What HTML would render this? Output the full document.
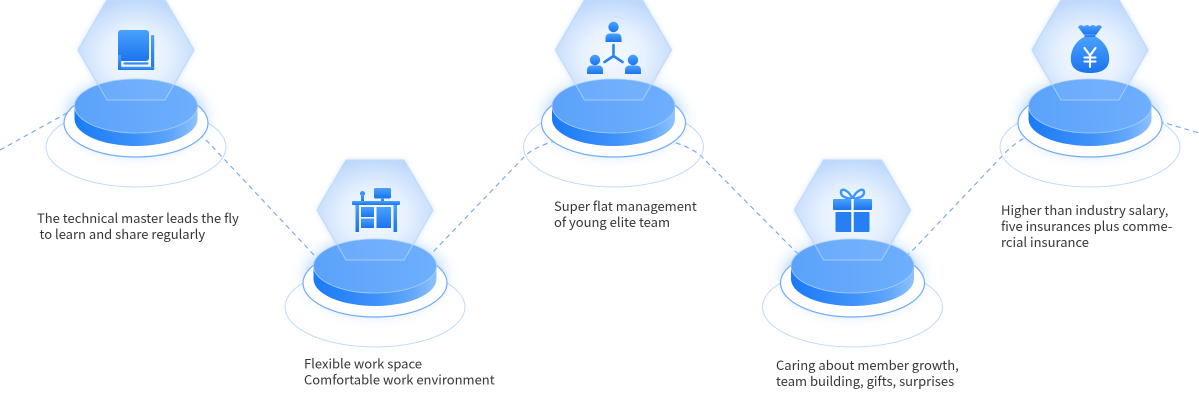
<!DOCTYPE html>
<html><head><meta charset="utf-8"><style>
html,body{margin:0;padding:0;background:#fff;overflow:hidden}
svg{display:block}
text{font-family:"Noto Sans CJK SC","Liberation Sans",sans-serif;font-size:13px;fill:#363636}
</style></head><body>
<svg width="1199" height="410" viewBox="0 0 1199 410" xmlns="http://www.w3.org/2000/svg">
<defs>
  <linearGradient id="ig" x1="0" y1="0" x2="0" y2="1"><stop offset="0" stop-color="#4aa1ff"/><stop offset="1" stop-color="#1b74ee"/></linearGradient>
  <radialGradient id="hg" cx=".5" cy=".56" r=".62"><stop offset="0" stop-color="#f5faff"/><stop offset=".45" stop-color="#e5f0fe"/><stop offset="1" stop-color="#b3d2fc"/></radialGradient>
  <linearGradient id="sg" x1="0" y1="0" x2="1" y2="0"><stop offset="0" stop-color="#1a7af7"/><stop offset=".5" stop-color="#3d91fa"/><stop offset=".8" stop-color="#62a7fb"/><stop offset="1" stop-color="#8fc2fd"/></linearGradient>
  <linearGradient id="tg" x1="0" y1="0" x2="1" y2="0"><stop offset="0" stop-color="#5ba2fb"/><stop offset="1" stop-color="#6eaffd"/></linearGradient>
  <filter id="b8" x="-50%" y="-50%" width="200%" height="200%"><feGaussianBlur stdDeviation="8"/></filter>
  <filter id="b3" x="-30%" y="-30%" width="160%" height="160%"><feGaussianBlur stdDeviation="3"/></filter>
  <g id="base">
    <ellipse cx="0" cy="147" rx="90" ry="40" fill="none" stroke="#bfd9fb" stroke-width="1"/>
    <ellipse cx="0" cy="116" rx="68" ry="36" fill="#5aa0fa" opacity=".5" filter="url(#b8)"/>
    <ellipse cx="0" cy="123" rx="72" ry="34" fill="#fff" stroke="#74abf6" stroke-width="1.2"/>
    <polygon points="-29,0 29,0 58,50 29,100 -29,100 -58,50" fill="#b9d6fc" opacity=".7" filter="url(#b3)"/>
    <polygon points="-29,0 29,0 58,50 29,100 -29,100 -58,50" fill="url(#hg)" stroke="#a8ccfb" stroke-width="1"/>
    <path d="M-61.5,106 L-61.5,119 A61.5,27 0 0 0 61.5,119 L61.5,106 Z" fill="url(#sg)"/>
    <ellipse cx="0" cy="106" rx="61.5" ry="27" fill="url(#tg)" stroke="#a6cdfd" stroke-width=".8"/>
    <polygon points="-29,0 29,0 58,50 29,100 -29,100 -58,50" fill="#fff" fill-opacity=".07" stroke="#cfe3fe" stroke-opacity=".6" stroke-width="1"/>
  </g>
</defs>

<!-- dashed connector -->
<path d="M0,150 L67,113 C100,95 170,105 209,143 L314,255 C339,282 407,279 432,253 L524,157 C554,126 672,127 702,157 L794,250 C819,275 888,276 913,250 L1005,153 C1040,116 1125,110 1165,123 L1199,133" fill="none" stroke="#6ea6f3" stroke-width="1.1" stroke-dasharray="5 4"/>

<use href="#base" x="136" y="0"/>
<use href="#base" x="375" y="160"/>
<use href="#base" x="613.5" y="0"/>
<use href="#base" x="852.5" y="160"/>
<use href="#base" x="1090" y="0"/>

<!-- book icon -->
<g transform="translate(136,0)" fill="url(#ig)">
  <rect x="-18" y="30" width="31" height="31" rx="3"/>
  <rect x="15" y="35" width="3.2" height="35" rx="1"/>
  <rect x="-18" y="66.8" width="36.2" height="3.2" rx="1"/>
  <rect x="-18" y="55" width="3.2" height="15" rx="1"/>
  <rect x="-12.5" y="62.3" width="25" height="2.2" rx="1"/>
</g>

<!-- desk icon -->
<g transform="translate(375,160)" fill="url(#ig)">
  <rect x="-1" y="28" width="17" height="10.5" rx="1.5"/>
  <rect x="6" y="38" width="3" height="4"/>
  <circle cx="-12.5" cy="33.5" r="2.5"/>
  <rect x="-14" y="34" width="3" height="8"/>
  <rect x="-23" y="41" width="48" height="4" rx="1"/>
  <rect x="-19.5" y="45" width="3.5" height="27"/>
  <rect x="18.5" y="45" width="3.5" height="27"/>
  <rect x="-14" y="47" width="13" height="10"/>
  <rect x="-14" y="58.5" width="13" height="9.5"/>
  <rect x="1.5" y="47" width="14.5" height="21"/>
</g>

<!-- team icon -->
<g transform="translate(613.5,0)" fill="url(#ig)">
  <circle cx="0" cy="27" r="5.2"/>
  <path d="M-8,42 L-8,38 Q-8,33.5 -3,33.5 L3,33.5 Q8,33.5 8,38 L8,42 Z"/>
  <circle cx="-18.5" cy="60" r="5.2"/>
  <path d="M-26.5,74 L-26.5,70 Q-26.5,65.5 -21.5,65.5 L-15.5,65.5 Q-10.5,65.5 -10.5,70 L-10.5,74 Z"/>
  <circle cx="19.5" cy="60" r="5.2"/>
  <path d="M11.5,74 L11.5,70 Q11.5,65.5 16.5,65.5 L22.5,65.5 Q27.5,65.5 27.5,70 L27.5,74 Z"/>
  <path d="M0,45 L0,56 M0,56 L-9,62 M0,56 L9,62" stroke="#2a83f5" stroke-width="2.6" stroke-linecap="round" fill="none"/>
</g>

<!-- gift icon -->
<g transform="translate(852.5,160)">
  <path d="M0,39 C-3,31 -12,26 -11.5,33 C-11,37.5 -4,38.5 0,39 Z M0,39 C3,31 12,26 11.5,33 C11,37.5 4,38.5 0,39 Z" fill="none" stroke="#3b95fc" stroke-width="2.4"/>
  <rect x="-19.5" y="39" width="39" height="11" rx="1" fill="url(#ig)"/>
  <rect x="-17" y="52" width="34" height="20" rx="1" fill="#2680f3"/>
  <rect x="-1.2" y="39" width="2.4" height="33" fill="#fff"/>
</g>

<!-- money bag icon -->
<g transform="translate(1090,0)" fill="url(#ig)">
  <path d="M-12,27 Q-9,23.5 -6,26.5 Q-3,23.5 0,26.5 Q3,23.5 6,26.5 Q9,23.5 12,27 L6,35 L-6,35 Z"/>
  <rect x="-5.5" y="34" width="11" height="3"/>
  <path d="M-6,37 C-20,44 -22,62 -16,68 C-12,72 -6,73 0,73 C6,73 12,72 16,68 C22,62 20,44 6,37 Z"/>
  <path d="M-5.5,48 L0,55.5 L5.5,48 M0,55.5 L0,67 M-5.5,57.5 L5.5,57.5 M-5.5,61.5 L5.5,61.5" stroke="#fff" stroke-width="2.1" fill="none" stroke-linecap="round"/>
</g>

<!-- labels -->
<text x="37" y="223">The technical master leads the fly</text>
<text x="39.5" y="239">to learn and share regularly</text>

<text x="304" y="368.5">Flexible work space</text>
<text x="304" y="384.5">Comfortable work environment</text>

<text x="554" y="211">Super flat management</text>
<text x="554" y="227">of young elite team</text>

<text x="776" y="370">Caring about member growth,</text>
<text x="776" y="386">team building, gifts, surprises</text>

<text x="1001" y="215">Higher than industry salary,</text>
<text x="1001" y="231">five insurances plus comme-</text>
<text x="1001" y="247">rcial insurance</text>
</svg>
</body></html>
